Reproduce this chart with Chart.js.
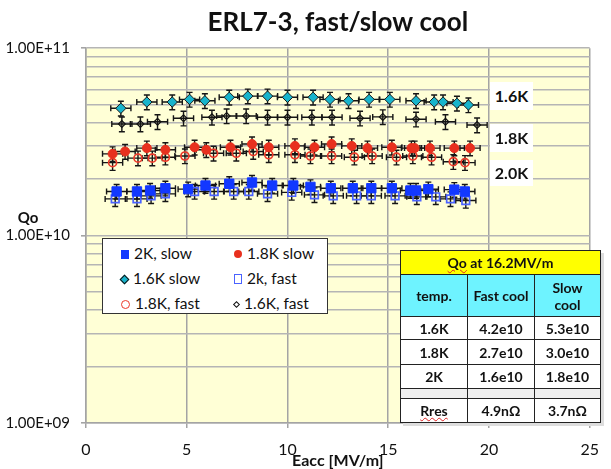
<!DOCTYPE html>
<html>
<head>
<meta charset="utf-8">
<script src="https://cdn.jsdelivr.net/npm/chart.js@4.4.1/dist/chart.umd.min.js"></script>
<style>
  html, body { margin: 0; padding: 0; background: #fff; }
  #wrap { position: relative; width: 611px; height: 469px; font-family: Lato, "Open Sans", sans-serif; }
  #chart { position: absolute; left: 0; top: 0; }
  .tag { position: absolute; background: #fff; font-weight: bold; font-size: 16px; color: #111;
         width: 43px; text-align: center; }
  #legend { position: absolute; left: 102px; top: 238px; width: 226px; height: 76px;
            background: #fff; border: 1.5px solid #333; box-sizing: border-box; }
  .item { position: absolute; font-size: 15.5px; color: #111; height: 20px; line-height: 20px; white-space: nowrap; }
  .mk { display: inline-block; vertical-align: middle; margin-right: 5px; box-sizing: border-box; position: relative; top: -1px; }
  #qtable { position: absolute; left: 400px; top: 250px; border-collapse: collapse; width: 201px;
            font-weight: bold; font-size: 14px; color: #111; box-shadow: 3px 3px 0 #ddd; }
  #qtable td { border: 1px solid #222; text-align: center; padding: 0; background: #fff; }
  #qtable .head { background: #ffff00; height: 23px; }
  #qtable .cyan td { background: #6ef3ff; height: 41px; line-height: 17px; }
  #qtable .gap td { background: #eeeeee; height: 9px; }
  .sp { text-decoration: underline wavy #d22; text-decoration-thickness: 1px; }
</style>
</head>
<body>
<div id="wrap">
  <canvas id="chart" width="611" height="469"></canvas>
  <div class="tag" style="left:490px; top:82px; height:28px; line-height:28px;">1.6K</div>
  <div class="tag" style="left:490px; top:124px; height:28px; line-height:28px;">1.8K</div>
  <div class="tag" style="left:490px; top:160px; height:26px; line-height:26px;">2.0K</div>
  <div id="legend"></div>
  <table id="qtable">
    <tr><td class="head" colspan="3"><span class="sp">Qo</span> at 16.2MV/m</td></tr>
    <tr class="cyan"><td style="width:66px">temp.</td><td style="width:66px">Fast cool</td><td>Slow<br>cool</td></tr>
    <tr><td style="height:22px">1.6K</td><td>4.2e10</td><td>5.3e10</td></tr>
    <tr><td style="height:24px">1.8K</td><td>2.7e10</td><td>3.0e10</td></tr>
    <tr><td style="height:23px">2K</td><td>1.6e10</td><td>1.8e10</td></tr>
    <tr class="gap"><td></td><td></td><td></td></tr>
    <tr><td style="height:23px"><span class="sp">Rres</span></td><td>4.9nΩ</td><td>3.7nΩ</td></tr>
  </table>
</div>
<script>
// Eacc [MV/m] and Qo, per series
const slow2kX = [1.52, 2.53, 3.18, 3.94, 5.07, 5.93, 7.11, 8.24, 9.24, 10.29, 11.14, 12.15, 13.24, 14.16, 15.18, 16.1, 16.38, 16.99, 18.28, 18.8];
const slow2kY = [1.72e10, 1.72e10, 1.74e10, 1.79e10, 1.77e10, 1.85e10, 1.89e10, 1.92e10, 1.85e10, 1.85e10, 1.82e10, 1.79e10, 1.79e10, 1.79e10, 1.79e10, 1.74e10, 1.74e10, 1.77e10, 1.76e10, 1.72e10];

const slow18X = [1.32, 1.94, 3.02, 3.94, 5.39, 5.97, 7.17, 8.24, 9.07, 10.37, 11.34, 12.19, 13.19, 13.97, 15.18, 16.15, 16.31, 17.07, 18.28, 19.06];
const slow18Y = [2.73e10, 2.81e10, 2.93e10, 2.87e10, 2.96e10, 2.87e10, 2.96e10, 3.08e10, 2.96e10, 3.01e10, 2.96e10, 3.08e10, 3.01e10, 2.93e10, 2.96e10, 2.93e10, 2.93e10, 2.93e10, 2.93e10, 2.93e10];

const slow16X = [1.73, 3.02, 4.28, 5.14, 5.9, 7.11, 8.03, 9.01, 10.0, 11.27, 12.11, 13.03, 14.05, 15.08, 16.38, 17.28, 17.72, 18.41, 18.98];
const slow16Y = [4.78e10, 5.16e10, 5.16e10, 5.33e10, 5.24e10, 5.47e10, 5.55e10, 5.55e10, 5.47e10, 5.47e10, 5.33e10, 5.24e10, 5.33e10, 5.33e10, 5.24e10, 5.16e10, 5.16e10, 5.08e10, 4.98e10];

const fast2kX = [1.45, 2.53, 3.23, 3.94, 5.39, 6.36, 7.33, 8.08, 9.01, 10.21, 11.34, 12.27, 13.43, 14.16, 15.34, 16.42, 17.36, 18.09, 18.85];
const fast2kY = [1.57e10, 1.57e10, 1.63e10, 1.67e10, 1.72e10, 1.72e10, 1.72e10, 1.72e10, 1.67e10, 1.70e10, 1.65e10, 1.63e10, 1.63e10, 1.63e10, 1.63e10, 1.61e10, 1.61e10, 1.57e10, 1.54e10];

const fast18X = [1.32, 2.58, 3.29, 3.94, 4.91, 6.33, 7.46, 8.3, 9.07, 10.37, 11.14, 12.19, 13.32, 14.2, 15.41, 16.22, 17.15, 18.23, 18.81];
const fast18Y = [2.45e10, 2.59e10, 2.59e10, 2.62e10, 2.66e10, 2.75e10, 2.75e10, 2.81e10, 2.70e10, 2.70e10, 2.66e10, 2.66e10, 2.62e10, 2.66e10, 2.62e10, 2.66e10, 2.62e10, 2.48e10, 2.45e10];

const fast16X = [1.78, 2.7, 3.55, 4.84, 6.25, 6.98, 7.95, 9.01, 10.0, 11.21, 12.21, 13.6, 14.73, 16.38, 17.84, 19.41];
const fast16Y = [3.94e10, 3.94e10, 4.05e10, 4.23e10, 4.28e10, 4.35e10, 4.35e10, 4.28e10, 4.28e10, 4.28e10, 4.28e10, 4.23e10, 4.3e10, 4.18e10, 4.05e10, 3.89e10];

// error bars: +-0.5 MV/m, +-9 % in Qo
const X_ERR = 0.5;
const Y_ERR = 0.09;

const xTicks = [0, 5, 10, 15, 20, 25];
const yDecades = [1e9, 1e10, 1e11];

const series = [
  { label: '2K, slow',    x: slow2kX, y: slow2kY, style: 'rect',    radius: 6.6, fill: '#1238ff', border: '#1238ff', bw: 1 },
  { label: '1.8K slow',   x: slow18X, y: slow18Y, style: 'circle',  radius: 4.5, fill: '#e8301e', border: '#e8301e', bw: 1 },
  { label: '1.6K slow',   x: slow16X, y: slow16Y, style: 'rectRot', radius: 5.2, fill: '#17b4cc', border: '#1a1a1a', bw: 1 },
  { label: '2k, fast',    x: fast2kX, y: fast2kY, style: 'rect',    radius: 5.4, fill: 'rgba(0,0,0,0)', border: '#4a62ff', bw: 1.7 },
  { label: '1.8K, fast',  x: fast18X, y: fast18Y, style: 'circle',  radius: 4,   fill: 'rgba(0,0,0,0)', border: '#ec3a2a', bw: 1.7 },
  { label: '1.6K, fast',  x: fast16X, y: fast16Y, style: 'rectRot', radius: 3.4, fill: 'rgba(0,0,0,0)', border: '#111', bw: 1.2 }
];

function fmtExp(v) {
  const e = Math.round(Math.log10(v));
  return '1.00E+' + String(e).padStart(2, '0');
}

const plotBackground = {
  id: 'plotBackground',
  beforeDraw(chart) {
    const { ctx, chartArea: a } = chart;
    ctx.save();
    ctx.fillStyle = '#ffffd6';
    ctx.fillRect(a.left, a.top, a.right - a.left, a.bottom - a.top);
    ctx.restore();
  }
};

// black error bars under the markers
const errorBars = {
  id: 'errorBars',
  beforeDatasetsDraw(chart) {
    const { ctx, scales: { x, y } } = chart;
    ctx.save();
    ctx.strokeStyle = '#151515';
    ctx.lineWidth = 1.4;
    const cap = 3;
    chart.data.datasets.forEach(ds => {
      ds.data.forEach(p => {
        const px = x.getPixelForValue(p.x), py = y.getPixelForValue(p.y);
        const xl = x.getPixelForValue(p.x - X_ERR), xr = x.getPixelForValue(p.x + X_ERR);
        const yt = y.getPixelForValue(p.y * (1 + Y_ERR)), yb = y.getPixelForValue(p.y * (1 - Y_ERR));
        ctx.beginPath();
        ctx.moveTo(xl, py); ctx.lineTo(xr, py);
        ctx.moveTo(xl, py - cap); ctx.lineTo(xl, py + cap);
        ctx.moveTo(xr, py - cap); ctx.lineTo(xr, py + cap);
        ctx.moveTo(px, yt); ctx.lineTo(px, yb);
        ctx.moveTo(px - cap, yt); ctx.lineTo(px + cap, yt);
        ctx.moveTo(px - cap, yb); ctx.lineTo(px + cap, yb);
        ctx.stroke();
      });
    });
    ctx.restore();
  }
};

const qoLabel = {
  id: 'qoLabel',
  afterDraw(chart) {
    const { ctx, scales: { y } } = chart;
    ctx.save();
    ctx.font = 'bold 15px Lato, sans-serif';
    ctx.fillStyle = '#111';
    ctx.textAlign = 'center';
    ctx.textBaseline = 'middle';
    ctx.fillText('Qo', 28, y.getPixelForValue(1e10) - 17);
    ctx.restore();
  }
};

function buildLegend() {
  const box = document.getElementById('legend');
  const pos = [[18, 4], [131, 4], [18, 29], [131, 29], [18, 54], [131, 54]];
  const marks = [
    'width:8px;height:9px;background:#1238ff;',
    'width:8px;height:8px;border-radius:50%;background:#e8301e;',
    'width:7px;height:7px;background:#17b4cc;border:1px solid #111;transform:rotate(45deg);',
    'width:8px;height:10px;border:1.5px solid #4a62ff;',
    'width:9px;height:9px;border-radius:50%;border:1.5px solid #ec3a2a;',
    'width:5px;height:5px;border:1px solid #111;transform:rotate(45deg);'
  ];
  series.forEach((s, i) => {
    const d = document.createElement('div');
    d.className = 'item';
    d.style.left = pos[i][0] + 'px';
    d.style.top = pos[i][1] + 'px';
    d.innerHTML = '<span class="mk" style="' + marks[i] + '"></span>' + s.label;
    box.appendChild(d);
  });
}

function createChart() {
  const ctx = document.getElementById('chart').getContext('2d');
  new Chart(ctx, {
    type: 'scatter',
    data: {
      datasets: series.map(s => ({
        label: s.label,
        data: s.x.map((v, i) => ({ x: v, y: s.y[i] })),
        pointStyle: s.style,
        pointRadius: s.radius,
        pointHoverRadius: s.radius,
        backgroundColor: s.fill,
        borderColor: s.border,
        pointBorderWidth: s.bw,
        showLine: false
      }))
    },
    options: {
      responsive: false,
      animation: false,
      layout: { padding: { left: 0, right: 9, top: 0, bottom: 0 } },
      plugins: {
        legend: { display: false },
        tooltip: { enabled: false },
        title: {
          display: true,
          text: 'ERL7-3, fast/slow cool',
          fullSize: false,
          color: '#111',
          font: { family: 'Lato, sans-serif', size: 26, weight: 'bold', lineHeight: 1.2 },
          padding: { top: 7, bottom: 10 }
        }
      },
      scales: {
        x: {
          type: 'linear',
          min: 0, max: 25,
          afterBuildTicks(scale) { scale.ticks = xTicks.map(v => ({ value: v })); },
          afterFit(scale) { scale.height = 46; },
          grid: { color: '#a4a4a4', lineWidth: 1.5, tickLength: 5 },
          border: { color: '#a4a4a4', width: 1.5 },
          ticks: { color: '#111', padding: 12, font: { family: 'Lato, sans-serif', size: 16 } },
          title: {
            display: true,
            text: 'Eacc [MV/m]',
            color: '#111',
            padding: 0,
            font: { family: 'Lato, sans-serif', size: 16, weight: 'bold', lineHeight: 1 }
          }
        },
        y: {
          type: 'logarithmic',
          min: 1e9, max: 1e11,
          afterBuildTicks(scale) {
            const t = [];
            yDecades.slice(0, 2).forEach(d => { for (let m = 1; m < 10; m++) t.push({ value: m * d }); });
            t.push({ value: yDecades[2] });
            scale.ticks = t;
          },
          afterFit(scale) { scale.width = 86; },
          grid: {
            color: '#b5b5b5', lineWidth: 1.6, tickLength: 5,
            tickColor: c => (c.tick && yDecades.includes(c.tick.value)) ? '#a4a4a4' : 'rgba(0,0,0,0)'
          },
          border: { color: '#a4a4a4', width: 1.5 },
          ticks: {
            autoSkip: false,
            color: '#111',
            padding: 11,
            font: { family: 'Lato, sans-serif', size: 15 },
            callback: v => yDecades.includes(v) ? fmtExp(v) : ''
          }
        }
      }
    },
    plugins: [plotBackground, errorBars, qoLabel]
  });
}

buildLegend();
createChart();
</script>
</body>
</html>
